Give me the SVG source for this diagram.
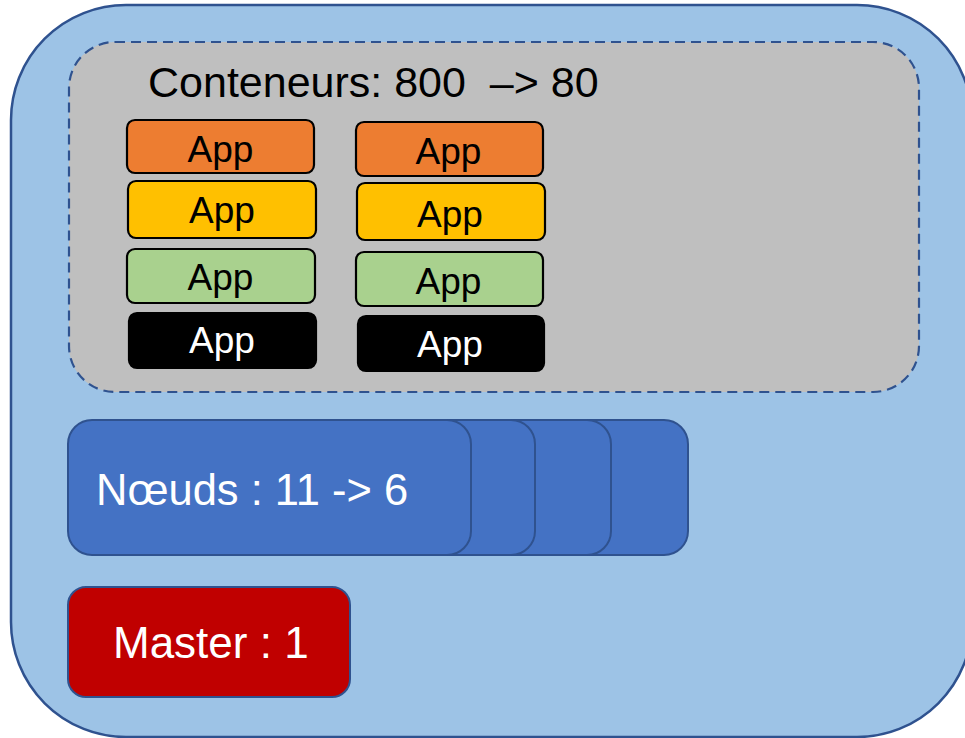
<svg xmlns="http://www.w3.org/2000/svg" width="965" height="738" viewBox="0 0 965 738">
  <style>
    .frame { fill: #9DC3E6; stroke: #2F528F; stroke-width: 2.5; }
    .pods { fill: #BFBFBF; stroke: #2F528F; stroke-width: 2.2; stroke-dasharray: 10 6; }
    .app { stroke: #000; stroke-width: 2.2; }
    .orange { fill: #ED7D31; }
    .yellow { fill: #FFC000; }
    .green { fill: #A9D18E; }
    .black { fill: #000; }
    .lbl { font-family: "Liberation Sans", Arial, sans-serif; text-anchor: middle; }
    .app-t { font-size: 37px; fill: #000; }
    .app-w { font-size: 37px; fill: #fff; }
    .node { fill: #4472C4; stroke: #2F528F; stroke-width: 2; }
    .master { fill: #C00000; stroke: #2F528F; stroke-width: 2; }
    .big { font-family: "Liberation Sans", Arial, sans-serif; font-size: 43px; white-space: pre; }
  </style>

  <!-- cluster frame -->
  <g id="cluster">
    <rect class="frame" x="11" y="5" width="961" height="732" rx="115" ry="115"/>
  </g>

  <!-- containers area -->
  <g id="containers">
    <rect class="pods" x="69" y="42" width="850" height="350" rx="46" ry="46"/>
    <text class="big" x="148" y="97" fill="#000">Conteneurs: 800  –&gt; 80</text>
  </g>

  <!-- application containers, left column -->
  <g id="app-l1"><rect class="app orange" x="127" y="120" width="187" height="53" rx="8"/><text class="lbl app-t" x="220.5" y="162">App</text></g>
  <g id="app-l2"><rect class="app yellow" x="128" y="181" width="188" height="57" rx="8"/><text class="lbl app-t" x="222" y="223">App</text></g>
  <g id="app-l3"><rect class="app green" x="127" y="249" width="188" height="54" rx="8"/><text class="lbl app-t" x="220.5" y="290">App</text></g>
  <g id="app-l4"><rect class="app black" x="129" y="313" width="187" height="55" rx="8"/><text class="lbl app-w" x="222" y="353">App</text></g>

  <!-- application containers, right column -->
  <g id="app-r1"><rect class="app orange" x="356" y="122" width="187" height="54" rx="8"/><text class="lbl app-t" x="448.5" y="164">App</text></g>
  <g id="app-r2"><rect class="app yellow" x="357" y="183" width="188" height="57" rx="8"/><text class="lbl app-t" x="450" y="227">App</text></g>
  <g id="app-r3"><rect class="app green" x="356" y="252" width="187" height="54" rx="8"/><text class="lbl app-t" x="448.5" y="294">App</text></g>
  <g id="app-r4"><rect class="app black" x="358" y="316" width="186" height="55" rx="8"/><text class="lbl app-w" x="450" y="357">App</text></g>

  <!-- worker nodes, stacked back to front -->
  <g id="nodes">
    <rect class="node" x="290" y="420" width="398" height="135" rx="24"/>
    <rect class="node" x="214" y="420" width="397" height="135" rx="24"/>
    <rect class="node" x="138" y="420" width="397" height="135" rx="24"/>
    <rect class="node" x="68" y="420" width="403" height="135" rx="24"/>
    <text class="big" x="96" y="505" fill="#fff" style="font-size:43.5px">Nœuds : 11 -&gt; 6</text>
  </g>

  <!-- master node -->
  <g id="master">
    <rect class="master" x="68" y="587" width="282" height="110" rx="18"/>
    <text class="big" x="113" y="658" fill="#fff" style="font-size:44px">Master : 1</text>
  </g>

  <!-- no connectors in this drawing -->
  <g id="connectors"/>
</svg>
